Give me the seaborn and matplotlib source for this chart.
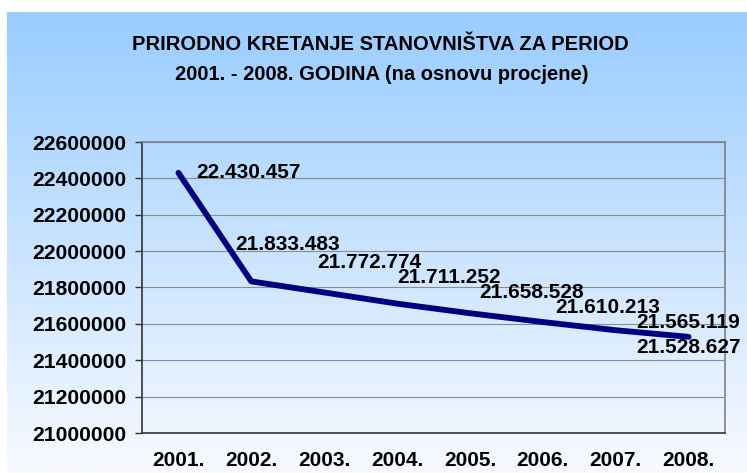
import numpy as np
import pandas as pd
import matplotlib
matplotlib.use("Agg")
import matplotlib.pyplot as plt
import seaborn as sns

years = ["2001.", "2002.", "2003.", "2004.", "2005.", "2006.", "2007.", "2008."]
population = [22430457, 21833483, 21772774, 21711252, 21658528, 21610213, 21565119, 21528627]
value_labels = ["22.430.457", "21.833.483", "21.772.774", "21.711.252",
                "21.658.528", "21.610.213", "21.565.119", "21.528.627"]
y_ticks = [21000000, 21200000, 21400000, 21600000, 21800000, 22000000, 22200000, 22400000, 22600000]
title_lines = ["PRIRODNO KRETANJE STANOVNIŠTVA ZA PERIOD", "2001. - 2008. GODINA (na osnovu procjene)"]

sns.set_theme(style="white")
plt.rcParams["font.family"] = ["Liberation Sans", "DejaVu Sans"]

W, H = 747, 473
fig = plt.figure(figsize=(W / 100, H / 100), dpi=100)
fig.patch.set_facecolor("white")

# background gradient panel
bg = fig.add_axes([7 / W, 0, 1 - 7 / W, 1 - 12 / H], zorder=0)
top = np.array([0x99, 0xCC, 0xFF]) / 255
bot = np.array([0xF8, 0xFA, 0xFF]) / 255
t = np.linspace(0, 1, 256)[:, None]
grad = (top[None, :] * (1 - t) + bot[None, :] * t)[:, None, :]
bg.imshow(grad, aspect="auto", extent=[0, 1, 0, 1], interpolation="bilinear")
bg.set_axis_off()

# titles
fig.text(380 / W, 1 - 45 / H, title_lines[0], ha="center", va="center",
         fontsize=14.5, fontweight="bold", color="black")
fig.text(382 / W, 1 - 75 / H, title_lines[1], ha="center", va="center",
         fontsize=14.5, fontweight="bold", color="black")

ax = fig.add_axes([142 / W, (H - 433) / H, (725 - 142) / W, (433 - 142) / H], zorder=1)
ax.patch.set_alpha(0)

df = pd.DataFrame({"year": years, "population": population})
sns.lineplot(data=df, x="year", y="population", ax=ax, color="#000080",
             linewidth=4.2, sort=False, solid_capstyle="round", solid_joinstyle="round")

ax.set_xlim(-0.5, len(years) - 0.5)
ax.set_ylim(y_ticks[0], y_ticks[-1])
ax.set_yticks(y_ticks)
ax.set_yticklabels([str(v) for v in y_ticks])
ax.set_xticks(range(len(years)))
ax.set_xticklabels(years)
ax.set_xticks(np.arange(-0.5, len(years)), minor=True)
ax.set_xlabel("")
ax.set_ylabel("")

ax.yaxis.grid(True, color="#8c8c8c", linewidth=0.8)
ax.xaxis.grid(False)
ax.tick_params(axis="x", which="major", length=0, pad=13, labelsize=15)
ax.tick_params(axis="x", which="minor", length=5, width=1, color="#333333", direction="out")
ax.tick_params(axis="y", which="major", length=5, width=1, color="#333333", direction="out",
               pad=6, labelsize=15.2, left=True)
for lbl in ax.get_xticklabels() + ax.get_yticklabels():
    lbl.set_fontweight("bold")
    lbl.set_color("black")

for s in ["left", "bottom"]:
    ax.spines[s].set_color("#333333")
    ax.spines[s].set_linewidth(1.2)
for s in ["top", "right"]:
    ax.spines[s].set_color("#808080")
    ax.spines[s].set_linewidth(1.2)
    ax.spines[s].set_visible(True)

offsets = [(70, 0), (36, 37), (45, 30), (52, 26), (62, 21), (65, 15), (72, 8), (0, -11)]
for i, (lab, (dx, dy)) in enumerate(zip(value_labels, offsets)):
    ax.annotate(lab, xy=(i, population[i]), xytext=(dx, dy), textcoords="offset pixels",
                ha="center", va="center", fontsize=15, fontweight="bold", color="black",
                annotation_clip=False)

fig.savefig("out.png", dpi=100)
